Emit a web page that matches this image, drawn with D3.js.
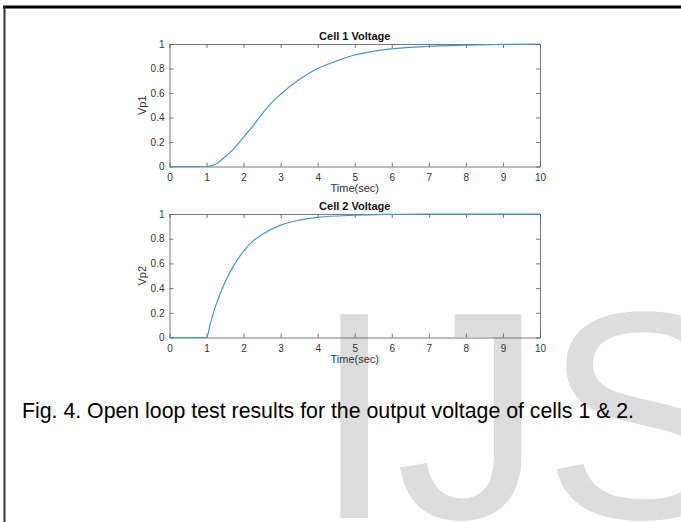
<!DOCTYPE html>
<html>
<head>
<meta charset="utf-8">
<script src="https://cdn.jsdelivr.net/npm/d3@7"></script>
<style>
  body { margin: 0; background: #fff; }
  svg { display: block; font-family: "Liberation Sans", Arial, sans-serif; }
</style>
</head>
<body>
<div id="chart"></div>
<script>
/* DATA */
const cell1Time = [0, 0.5, 1, 1.25, 1.5, 1.75, 2, 2.25, 2.5, 2.75, 3, 3.5, 4, 4.5, 5, 5.5, 6, 7, 8, 9, 10];
const cell1Volt = [0, 0, 0, 0.02, 0.08, 0.15, 0.24, 0.33, 0.43, 0.52, 0.59, 0.71, 0.80, 0.86, 0.91, 0.94, 0.96, 0.98, 0.99, 0.997, 1];
const cell2Time = [0, 0.5, 1, 1.1, 1.25, 1.5, 1.75, 2, 2.25, 2.5, 3, 3.5, 4, 5, 6, 7, 8, 10];
const cell2Volt = [0, 0, 0, 0.11, 0.26, 0.45, 0.59, 0.70, 0.78, 0.835, 0.91, 0.95, 0.973, 0.99, 0.997, 1, 1, 1];
const xTicks = [0, 1, 2, 3, 4, 5, 6, 7, 8, 9, 10];
const yTicks = [0, 0.2, 0.4, 0.6, 0.8, 1];
const panels = [
  { title: "Cell 1 Voltage", ylabel: "Vp1", t: cell1Time, v: cell1Volt, top: 44, bottom: 166.5 },
  { title: "Cell 2 Voltage", ylabel: "Vp2", t: cell2Time, v: cell2Volt, top: 214, bottom: 337.5 }
];

const width = 681, height = 522;
const left = 169.5, right = 540;
const axisColor = "#555", lineColor = "#4596d4";

const svg = d3.select("#chart").append("svg")
  .attr("width", width)
  .attr("height", height);

// page frame
svg.append("line").attr("x1", 3).attr("x2", width).attr("y1", 7).attr("y2", 7)
  .attr("stroke", "#000").attr("stroke-width", 3);
svg.append("line").attr("x1", 4.5).attr("x2", 4.5).attr("y1", 6).attr("y2", height)
  .attr("stroke", "#333").attr("stroke-width", 2);

// watermark behind the plots
svg.append("text")
  .attr("x", 313).attr("y", 518)
  .attr("font-size", 296)
  .attr("fill", "#dddddd")
  .text("IJS");

const xScale = d3.scaleLinear().domain([0, 10]).range([left, right]);

panels.forEach(p => {
  const yScale = d3.scaleLinear().domain([0, 1]).range([p.bottom, p.top]);
  const g = svg.append("g");

  // box with inward ticks on all sides
  const fmtY = d => d === 0 || d === 1 ? String(d) : d3.format(".1f")(d);
  const axes = [
    { ax: d3.axisBottom(xScale).tickValues(xTicks).tickSizeInner(-4).tickSizeOuter(0).tickPadding(7), tr: `translate(0,${p.bottom})` },
    { ax: d3.axisTop(xScale).tickValues(xTicks).tickFormat("").tickSizeInner(-4).tickSizeOuter(0), tr: `translate(0,${p.top})` },
    { ax: d3.axisLeft(yScale).tickValues(yTicks).tickFormat(fmtY).tickSizeInner(-4).tickSizeOuter(0).tickPadding(5), tr: `translate(${left},0)` },
    { ax: d3.axisRight(yScale).tickValues(yTicks).tickFormat("").tickSizeInner(-4).tickSizeOuter(0), tr: `translate(${right},0)` }
  ];
  axes.forEach(a => {
    const s = g.append("g").attr("transform", a.tr).call(a.ax);
    s.select(".domain").attr("stroke", axisColor).attr("stroke-width", 0.8);
    s.selectAll(".tick line").attr("stroke", axisColor).attr("stroke-width", 0.8);
    s.selectAll(".tick text")
      .attr("fill", "#333")
      .attr("font-size", 10)
      .attr("font-family", "'Liberation Sans', Arial, sans-serif");
  });

  // curve
  const line = d3.line()
    .x((d, i) => xScale(p.t[i]))
    .y(d => yScale(d))
    .curve(d3.curveMonotoneX);
  g.append("path")
    .datum(p.v)
    .attr("fill", "none")
    .attr("stroke", lineColor)
    .attr("stroke-width", 1.2)
    .attr("d", line);

  // title
  g.append("text")
    .attr("x", (left + right) / 2).attr("y", p.top - 4)
    .attr("text-anchor", "middle")
    .attr("font-size", 11).attr("font-weight", "bold")
    .attr("fill", "#111")
    .text(p.title);

  // x label
  g.append("text")
    .attr("x", (left + right) / 2).attr("y", p.bottom + 25.5)
    .attr("text-anchor", "middle")
    .attr("font-size", 11)
    .attr("fill", "#333")
    .text("Time(sec)");

  // y label
  g.append("text")
    .attr("transform", `translate(${left - 24},${(p.top + p.bottom) / 2}) rotate(-90)`)
    .attr("text-anchor", "middle")
    .attr("font-size", 11)
    .attr("fill", "#333")
    .text(p.ylabel);
});

// caption
svg.append("text")
  .attr("x", 22).attr("y", 418)
  .attr("font-size", 21.3)
  .attr("fill", "#000")
  .text("Fig. 4. Open loop test results for the output voltage of cells 1 & 2.");
</script>
</body>
</html>
